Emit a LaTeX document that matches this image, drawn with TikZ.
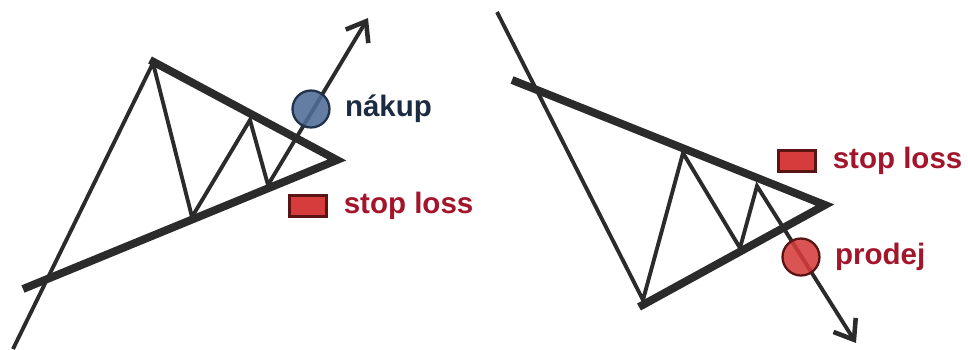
\documentclass[tikz,border=0pt]{standalone}
\usepackage{fontspec}
\setmainfont{Liberation Sans}
\usetikzlibrary{positioning,arrows.meta}

\definecolor{linegray}{HTML}{2B2B2B}
\definecolor{buyblue}{HTML}{4F6C96}
\definecolor{buyedge}{HTML}{22324A}
\definecolor{buytext}{HTML}{1C2B42}
\definecolor{sellred}{HTML}{D63C3C}
\definecolor{selledge}{HTML}{5A1414}
\definecolor{selltext}{HTML}{A3152B}

\tikzset{
    trendline/.style={draw=linegray, line width=4.5pt},
    priceline/.style={draw=linegray, line width=2.2pt, line join=miter},
    pricearrow/.style={priceline, -{Straight Barb[length=10pt,width=15pt,line width=2.6pt]}},
    buydot/.style={circle, minimum size=0.74cm, inner sep=0pt, fill=buyblue, fill opacity=0.88, draw=buyedge, line width=1.3pt},
    selldot/.style={circle, minimum size=0.74cm, inner sep=0pt, fill=sellred, fill opacity=0.88, draw=selledge, line width=1.3pt},
    stopbox/.style={rectangle, minimum width=0.74cm, minimum height=0.42cm, inner sep=0pt, fill=sellred, draw=selledge, line width=1.3pt},
    tag/.style={font=\bfseries\fontsize{16.8}{18}\selectfont, inner sep=0pt, anchor=west}
}

\begin{document}
\begin{tikzpicture}[x=0.02cm, y=-0.02cm]
    \useasboundingbox (0,0) rectangle (968,349);

    % rising triangle
    \coordinate (lstart) at (13,349);
    \coordinate (lpeak) at (153,63);
    \coordinate (llow1) at (192,217);
    \coordinate (lhigh1) at (250,120);
    \coordinate (llow2) at (268,185);
    \coordinate (ltip) at (368,18);
    \coordinate (lupper) at (150,60);
    \coordinate (llower) at (23,289);
    \coordinate (lapex) at (337,160);

    \draw[trendline] (lupper) -- (lapex) -- (llower);
    \draw[pricearrow] (lstart) -- (lpeak) -- (llow1) -- (lhigh1) -- (llow2) -- (ltip);

    \node[buydot] (buy) at (311,109) {};
    \node[tag, text=buytext, right=8pt of buy] (buytxt) {nákup};
    \node[stopbox] (lstop) at (308,206) {};
    \node[tag, text=selltext, right=9pt of lstop] (lstoptxt) {stop loss};

    % falling triangle
    \coordinate (rstart) at (497,12);
    \coordinate (rlow) at (643,300);
    \coordinate (rhigh1) at (683,153);
    \coordinate (rlow1) at (740,248);
    \coordinate (rhigh2) at (757,186);
    \coordinate (rtip) at (856,343);
    \coordinate (rupper) at (512,80);
    \coordinate (rlower) at (639,307);
    \coordinate (rapex) at (825,205);

    \draw[trendline] (rupper) -- (rapex) -- (rlower);
    \draw[pricearrow] (rstart) -- (rlow) -- (rhigh1) -- (rlow1) -- (rhigh2) -- (rtip);

    \node[selldot] (sell) at (801,257) {};
    \node[tag, text=selltext, right=8pt of sell] (selltxt) {prodej};
    \node[stopbox] (rstop) at (797,161) {};
    \node[tag, text=selltext, right=9pt of rstop] (rstoptxt) {stop loss};
\end{tikzpicture}
\end{document}
